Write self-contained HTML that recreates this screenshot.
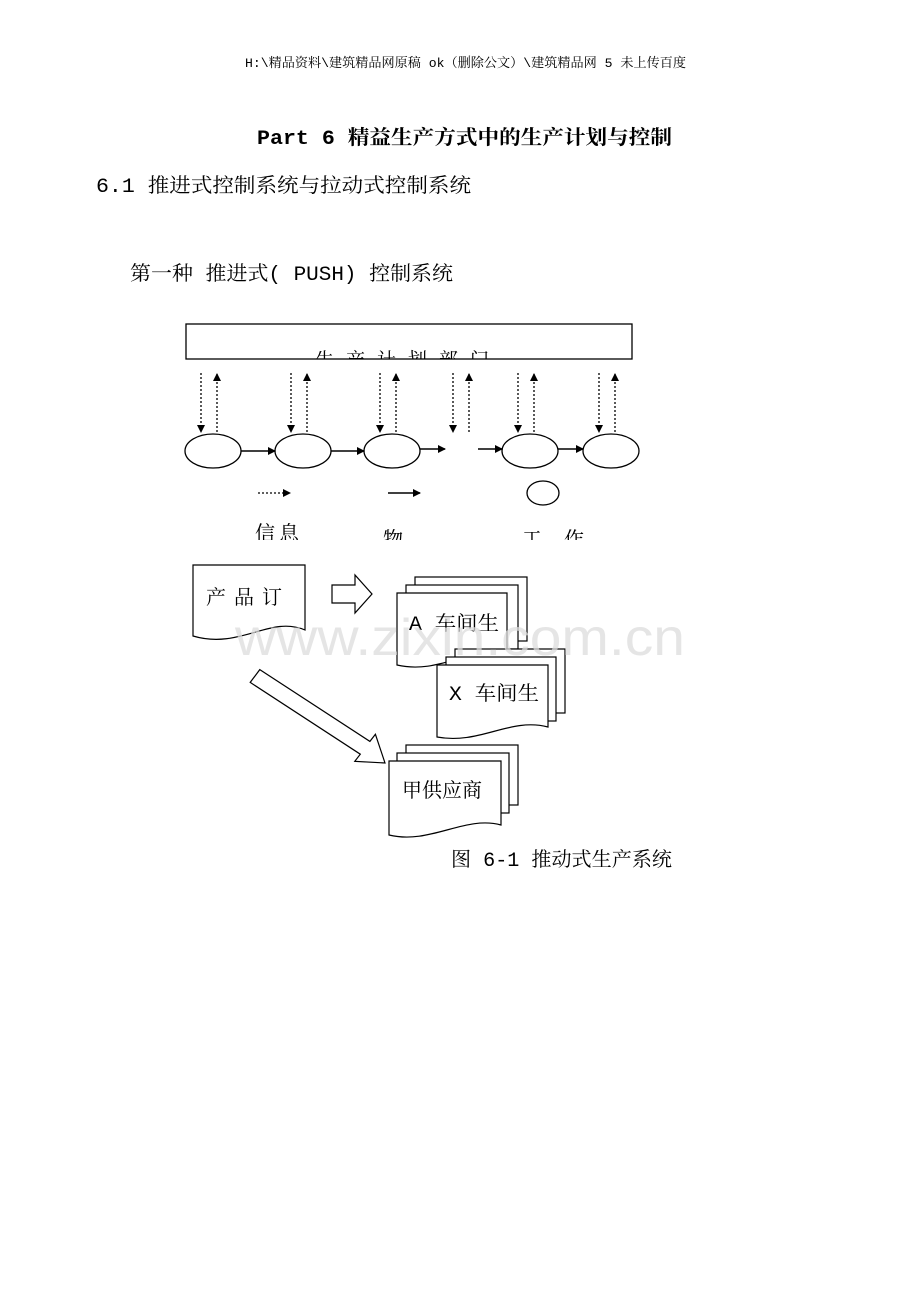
<!DOCTYPE html>
<html><head><meta charset="utf-8"><style>
html,body{margin:0;padding:0;background:#fff}
svg{display:block}
text{font-family:"Liberation Mono","Noto Serif CJK SC","Noto Sans CJK SC",monospace;fill:#000}
</style></head><body>
<svg width="920" height="1302" viewBox="0 0 920 1302" xmlns="http://www.w3.org/2000/svg">
<defs>
<marker id="ah" markerWidth="8" markerHeight="8" refX="7" refY="4" orient="auto" markerUnits="userSpaceOnUse"><path d="M0,0 L8,4 L0,8 z" fill="#000"/></marker>
<clipPath id="c1"><rect x="186" y="324" width="446" height="35"/></clipPath>
<clipPath id="c2"><rect x="0" y="500" width="920" height="40"/></clipPath>
</defs>
<text x="245" y="67" font-size="13" textLength="441" lengthAdjust="spacingAndGlyphs" fill="#333">H:\精品资料\建筑精品网原稿 ok（删除公文）\建筑精品网 5 未上传百度</text>
<text x="257" y="144" font-size="20" font-weight="bold" textLength="415" lengthAdjust="spacingAndGlyphs">Part 6 精益生产方式中的生产计划与控制</text>
<text x="96" y="192" font-size="20" textLength="375" lengthAdjust="spacingAndGlyphs">6.1 推进式控制系统与拉动式控制系统</text>
<text x="130" y="280" font-size="20" textLength="323" lengthAdjust="spacingAndGlyphs">第一种 推进式( PUSH) 控制系统</text>

<rect x="186" y="324" width="446" height="35" fill="#fff" stroke="#000" stroke-width="1.3"/>
<text x="315" y="366" font-size="19" clip-path="url(#c1)" letter-spacing="12">生产计划部门</text>

<g stroke="#000" stroke-width="1.3" stroke-dasharray="2,2" fill="none">
<line x1="201" y1="373" x2="201" y2="432" marker-end="url(#ah)"/>
<line x1="217" y1="432" x2="217" y2="374" marker-end="url(#ah)"/>
<line x1="291" y1="373" x2="291" y2="432" marker-end="url(#ah)"/>
<line x1="307" y1="432" x2="307" y2="374" marker-end="url(#ah)"/>
<line x1="380" y1="373" x2="380" y2="432" marker-end="url(#ah)"/>
<line x1="396" y1="432" x2="396" y2="374" marker-end="url(#ah)"/>
<line x1="453" y1="373" x2="453" y2="432" marker-end="url(#ah)"/>
<line x1="469" y1="432" x2="469" y2="374" marker-end="url(#ah)"/>
<line x1="518" y1="373" x2="518" y2="432" marker-end="url(#ah)"/>
<line x1="534" y1="432" x2="534" y2="374" marker-end="url(#ah)"/>
<line x1="599" y1="373" x2="599" y2="432" marker-end="url(#ah)"/>
<line x1="615" y1="432" x2="615" y2="374" marker-end="url(#ah)"/>
<line x1="258" y1="493" x2="290" y2="493" marker-end="url(#ah)"/>
</g>
<g fill="#fff" stroke="#000" stroke-width="1.3">
<ellipse cx="213" cy="451" rx="28" ry="17"/>
<ellipse cx="303" cy="451" rx="28" ry="17"/>
<ellipse cx="392" cy="451" rx="28" ry="17"/>
<ellipse cx="530" cy="451" rx="28" ry="17"/>
<ellipse cx="611" cy="451" rx="28" ry="17"/>
<ellipse cx="543" cy="493" rx="16" ry="12"/>
</g>
<g stroke="#000" stroke-width="1.5" fill="none">
<line x1="241" y1="451" x2="275" y2="451" marker-end="url(#ah)"/>
<line x1="331" y1="451" x2="364" y2="451" marker-end="url(#ah)"/>
<line x1="420" y1="449" x2="445" y2="449" marker-end="url(#ah)"/>
<line x1="478" y1="449" x2="502" y2="449" marker-end="url(#ah)"/>
<line x1="558" y1="449" x2="583" y2="449" marker-end="url(#ah)"/>
<line x1="388" y1="493" x2="420" y2="493" marker-end="url(#ah)"/>
</g>
<g clip-path="url(#c2)" font-size="20">
<text x="255" y="540" letter-spacing="4">信息</text>
<text x="383" y="546">物</text>
<text x="522" y="546" letter-spacing="22">工作</text>
</g>

<g fill="#fff" stroke="#000" stroke-width="1.2">
<path d="M193,565 H305 V630 C270,615 240,650 193,636 Z"/>
<polygon points="332,585 355,585 355,575 372,594 355,613 355,603 332,603"/>
<polygon points="259.8,669.6 369.9,741.4 375.4,734.3 385,763 354.8,761.3 360.3,754.2 250.2,682.4"/>
<rect x="415" y="577" width="112" height="64"/>
<rect x="406" y="585" width="112" height="64"/>
<path d="M397,593 H507 V655 C470,645 440,675 397,665 Z"/>
<rect x="455" y="649" width="110" height="64"/>
<rect x="446" y="657" width="110" height="64"/>
<path d="M437,665 H548 V727 C510,717 480,745 437,737 Z"/>
<rect x="406" y="745" width="112" height="60"/>
<rect x="397" y="753" width="112" height="60"/>
<path d="M389,761 H501 V825 C465,815 430,845 389,835 Z"/>
</g>
<text x="206" y="604" font-size="20" letter-spacing="8">产品订</text>
<text x="409" y="630" font-size="20" textLength="90" lengthAdjust="spacingAndGlyphs">A 车间生</text>
<text x="449" y="700" font-size="20" textLength="90" lengthAdjust="spacingAndGlyphs">X 车间生</text>
<text x="402" y="797" font-size="20">甲供应商</text>
<text x="451" y="866" font-size="20" textLength="221" lengthAdjust="spacingAndGlyphs">图 6-1 推动式生产系统</text>

<text x="460" y="655" font-size="52" text-anchor="middle" textLength="450" lengthAdjust="spacingAndGlyphs" style="fill:#dcdcdc;fill-opacity:0.75;font-family:'Liberation Sans',sans-serif">www.zixin.com.cn</text>
</svg>
</body></html>
